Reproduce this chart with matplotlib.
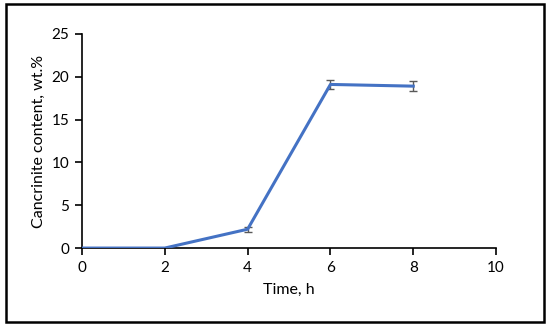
import matplotlib.pyplot as plt
from matplotlib.patches import Rectangle

# Data
time_h = [0, 2, 4, 6, 8]
cancrinite = [0, 0, 2.2, 19.1, 18.9]
errors = [0, 0, 0.3, 0.5, 0.6]

plt.rcParams['font.family'] = ['Lato', 'DejaVu Sans']

fig = plt.figure(figsize=(5.5, 3.29), dpi=100)
ax = fig.add_axes([0.149, 0.246, 0.753, 0.651])

line_color = '#4472C4'
ax.plot(time_h, cancrinite, color=line_color, linewidth=2.2, zorder=3)
ax.errorbar(time_h[2:], cancrinite[2:], yerr=errors[2:], fmt='none',
            ecolor='#595959', elinewidth=1, capsize=3, capthick=1, zorder=2)

ax.set_xlim(0, 10)
ax.set_ylim(0, 25)
ax.set_xticks(range(0, 11, 2))
ax.set_yticks(range(0, 26, 5))
ax.tick_params(direction='out', length=5, width=1.2, labelsize=11, pad=4)
for side in ['top', 'right']:
    ax.spines[side].set_visible(False)
for side in ['left', 'bottom']:
    ax.spines[side].set_linewidth(1.2)

ax.set_xlabel('Time, h', fontsize=11.5, labelpad=6)
ax.set_ylabel('Cancrinite content, wt.%', fontsize=11.5, labelpad=4)

# outer frame round the chart
fig.patches.append(Rectangle((0.011, 0.02), 0.978, 0.967, transform=fig.transFigure,
                             fill=False, edgecolor='black', linewidth=1.8))

fig.savefig('out.png', dpi=100)
